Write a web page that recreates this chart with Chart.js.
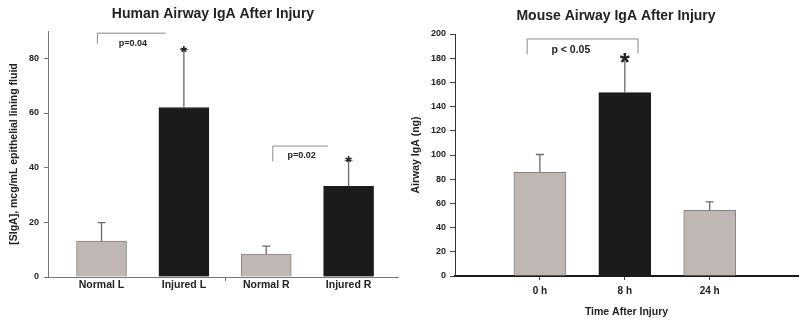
<!DOCTYPE html>
<html>
<head>
<meta charset="utf-8">
<script src="https://cdn.jsdelivr.net/npm/chart.js@4"></script>
<style>
  body { margin: 0; background: #fff; }
  .wrap { display: flex; width: 800px; height: 324px; }
  canvas { display: block; }
</style>
</head>
<body>
<div class="wrap">
  <canvas id="chartHuman" width="400" height="324"></canvas>
  <canvas id="chartMouse" width="400" height="324"></canvas>
</div>
<script>
// datos humanos
const humanCats = ['Normal L', 'Injured L', 'Normal R', 'Injured R'];
const humanMeans = [13.1, 62.0, 8.4, 33.2];
const humanErr = [6.8, 21.2, 2.9, 9.5];
const humanTicks = [0, 20, 40, 60, 80];

// datos raton
const mouseCats = ['0 h', '8 h', '24 h'];
const mouseMeans = [85.6, 151.6, 54.2];
const mouseErr = [14.8, 29.4, 7.1];
const mouseTicks = [0, 20, 40, 60, 80, 100, 120, 140, 160, 180, 200];

const FONT = '"Liberation Sans", Arial, sans-serif';
const GRAY = '#c0b7b5';
const BLACK = '#1d1a1b';

Chart.defaults.font.family = FONT;
Chart.defaults.color = '#222';

// barras de error (solo hacia arriba) + corchetes, p y asteriscos
const extrasPlugin = {
    id: 'extras',
    afterDatasetsDraw(chart, args, opts) {
        const ctx = chart.ctx;
        const xs = chart.scales.x;
        const ys = chart.scales.y;
        ctx.save();
        // error bars
        ctx.strokeStyle = '#6a6a6a';
        ctx.lineWidth = 1.3;
        opts.means.forEach((m, i) => {
            const x = xs.getPixelForValue(i + 1);
            const y0 = ys.getPixelForValue(m);
            const y1 = ys.getPixelForValue(m + opts.errs[i]);
            ctx.beginPath();
            ctx.moveTo(x, y0);
            ctx.lineTo(x, y1);
            ctx.moveTo(x - 4, y1);
            ctx.lineTo(x + 4, y1);
            ctx.stroke();
        });
        // marcas menores del eje x
        ctx.strokeStyle = '#777';
        ctx.lineWidth = 1;
        (opts.minorX || []).forEach(v => {
            const x = Math.round(xs.getPixelForValue(v)) + 0.5;
            ctx.beginPath();
            ctx.moveTo(x, xs.top);
            ctx.lineTo(x, xs.top + 4);
            ctx.stroke();
        });
        // corchetes
        ctx.strokeStyle = '#888';
        (opts.brackets || []).forEach(b => {
            const xa = xs.getPixelForValue(b.x1);
            const xb = xs.getPixelForValue(b.x2);
            const yt = ys.getPixelForValue(b.y);
            const yl = ys.getPixelForValue(b.yLeft);
            ctx.beginPath();
            ctx.moveTo(xa, yl);
            ctx.lineTo(xa, yt);
            ctx.lineTo(xb, yt);
            if (b.yRight !== undefined) ctx.lineTo(xb, ys.getPixelForValue(b.yRight));
            ctx.stroke();
            ctx.fillStyle = '#222';
            ctx.font = 'bold ' + b.size + 'px ' + FONT;
            ctx.textAlign = 'center';
            ctx.textBaseline = 'middle';
            ctx.fillText(b.text, xs.getPixelForValue(b.tx), ys.getPixelForValue(b.ty));
        });
        // asteriscos
        (opts.stars || []).forEach(s => {
            const x = xs.getPixelForValue(s.idx + 1);
            const y = ys.getPixelForValue(opts.means[s.idx] + opts.errs[s.idx]);
            ctx.fillStyle = '#222';
            ctx.font = 'bold ' + s.size + 'px ' + FONT;
            ctx.textAlign = 'center';
            ctx.textBaseline = 'alphabetic';
            ctx.fillText('*', x, y - 2 + 0.6 * s.size);
        });
        // titulo
        ctx.fillStyle = '#222';
        ctx.font = 'bold 14px ' + FONT;
        ctx.textAlign = 'center';
        ctx.textBaseline = 'middle';
        ctx.fillText(opts.title, opts.titleX, opts.titleY);
        ctx.restore();
    }
};

function toPoints(vals) {
    return vals.map((v, i) => ({ x: i + 1, y: v }));
}

// grafico humano
const ctxH = document.getElementById('chartHuman').getContext('2d');
const chartHuman = new Chart(ctxH, {
    type: 'bar',
    data: {
        datasets: [{
            data: toPoints(humanMeans),
            backgroundColor: humanCats.map(c => c.startsWith('Normal') ? GRAY : BLACK),
            borderColor: humanCats.map(c => c.startsWith('Normal') ? '#8a8282' : BLACK),
            borderWidth: 1,
            borderSkipped: 'bottom',
            barThickness: 50
        }]
    },
    plugins: [extrasPlugin],
    options: {
        responsive: false,
        animation: false,
        devicePixelRatio: 1,
        layout: { autoPadding: false, padding: { top: 31, right: 2, left: 0, bottom: 0 } },
        scales: {
            x: {
                type: 'linear',
                min: 0.35,
                max: 4.6,
                offset: false,
                afterFit: s => { s.height = 47; },
                afterBuildTicks: s => { s.ticks = humanCats.map((c, i) => ({ value: i + 1 })); },
                ticks: {
                    callback: (v, i) => humanCats[i],
                    font: { size: 10.5, weight: 'bold' },
                    color: '#222',
                    padding: 2,
                    maxRotation: 0
                },
                grid: { display: false, drawTicks: false, offset: false },
                border: { color: '#777', width: 1 }
            },
            y: {
                min: 0,
                max: 90,
                afterFit: s => { s.width = 48; },
                afterBuildTicks: s => { s.ticks = humanTicks.map(v => ({ value: v })); },
                ticks: { font: { size: 9, weight: 'bold' }, color: '#222', padding: 5 },
                grid: { drawOnChartArea: false, tickLength: 4, color: '#777' },
                border: { color: '#777', width: 1 },
                title: {
                    display: true,
                    text: '[SIgA], mcg/mL epithelial lining fluid',
                    font: { size: 10.5, weight: 'bold' },
                    color: '#222',
                    padding: { top: 8, bottom: 0 }
                }
            }
        },
        plugins: {
            legend: { display: false },
            tooltip: { enabled: false },
            extras: {
                title: 'Human Airway IgA After Injury',
                titleX: 213,
                titleY: 14,
                means: humanMeans,
                errs: humanErr,
                minorX: [2.5],
                brackets: [
                    { x1: 0.95, x2: 1.78, y: 89.2, yLeft: 85.4, text: 'p=0.04', tx: 1.38, ty: 85.6, size: 9 },
                    { x1: 3.08, x2: 3.75, y: 47.9, yLeft: 42.3, text: 'p=0.02', tx: 3.43, ty: 44.3, size: 9 }
                ],
                stars: [{ idx: 1, size: 17 }, { idx: 3, size: 17 }]
            }
        }
    }
});

// grafico raton
const ctxM = document.getElementById('chartMouse').getContext('2d');
const chartMouse = new Chart(ctxM, {
    type: 'bar',
    data: {
        datasets: [{
            data: toPoints(mouseMeans),
            backgroundColor: mouseCats.map(c => c === '8 h' ? BLACK : GRAY),
            borderColor: mouseCats.map(c => c === '8 h' ? BLACK : '#8a8282'),
            borderWidth: 1,
            borderSkipped: 'bottom',
            barThickness: 52
        }]
    },
    plugins: [extrasPlugin],
    options: {
        responsive: false,
        animation: false,
        devicePixelRatio: 1,
        layout: { autoPadding: false, padding: { top: 34, right: 2, left: 0, bottom: 0 } },
        scales: {
            x: {
                type: 'linear',
                min: 0,
                max: 4.04,
                offset: false,
                afterFit: s => { s.height = 48; },
                afterBuildTicks: s => { s.ticks = mouseCats.map((c, i) => ({ value: i + 1 })); },
                ticks: {
                    callback: (v, i) => mouseCats[i],
                    font: { size: 10, weight: 'bold' },
                    color: '#222',
                    padding: 5,
                    maxRotation: 0
                },
                grid: { drawOnChartArea: false, tickLength: 4, color: '#444', offset: false },
                border: { color: '#1a1a1a', width: 2 },
                title: {
                    display: true,
                    text: 'Time After Injury',
                    font: { size: 10.5, weight: 'bold' },
                    color: '#222',
                    padding: { top: 0, bottom: 6 }
                }
            },
            y: {
                min: 0,
                max: 200,
                afterFit: s => { s.width = 55; },
                afterBuildTicks: s => { s.ticks = mouseTicks.map(v => ({ value: v })); },
                ticks: { font: { size: 9, weight: 'bold' }, color: '#222', padding: 4 },
                grid: { drawOnChartArea: false, tickLength: 5, color: '#444' },
                border: { color: '#333', width: 1 },
                title: {
                    display: true,
                    text: 'Airway IgA (ng)',
                    font: { size: 10.5, weight: 'bold' },
                    color: '#222',
                    padding: { top: 10, bottom: 0 }
                }
            }
        },
        plugins: {
            legend: { display: false },
            tooltip: { enabled: false },
            extras: {
                title: 'Mouse Airway IgA After Injury',
                titleX: 216,
                titleY: 16,
                means: mouseMeans,
                errs: mouseErr,
                brackets: [
                    { x1: 0.85, x2: 2.156, y: 195.9, yLeft: 183.2, yRight: 184, text: 'p < 0.05', tx: 1.365, ty: 186.5, size: 10.5 }
                ],
                stars: [{ idx: 1, size: 26 }]
            }
        }
    }
});
</script>
</body>
</html>
